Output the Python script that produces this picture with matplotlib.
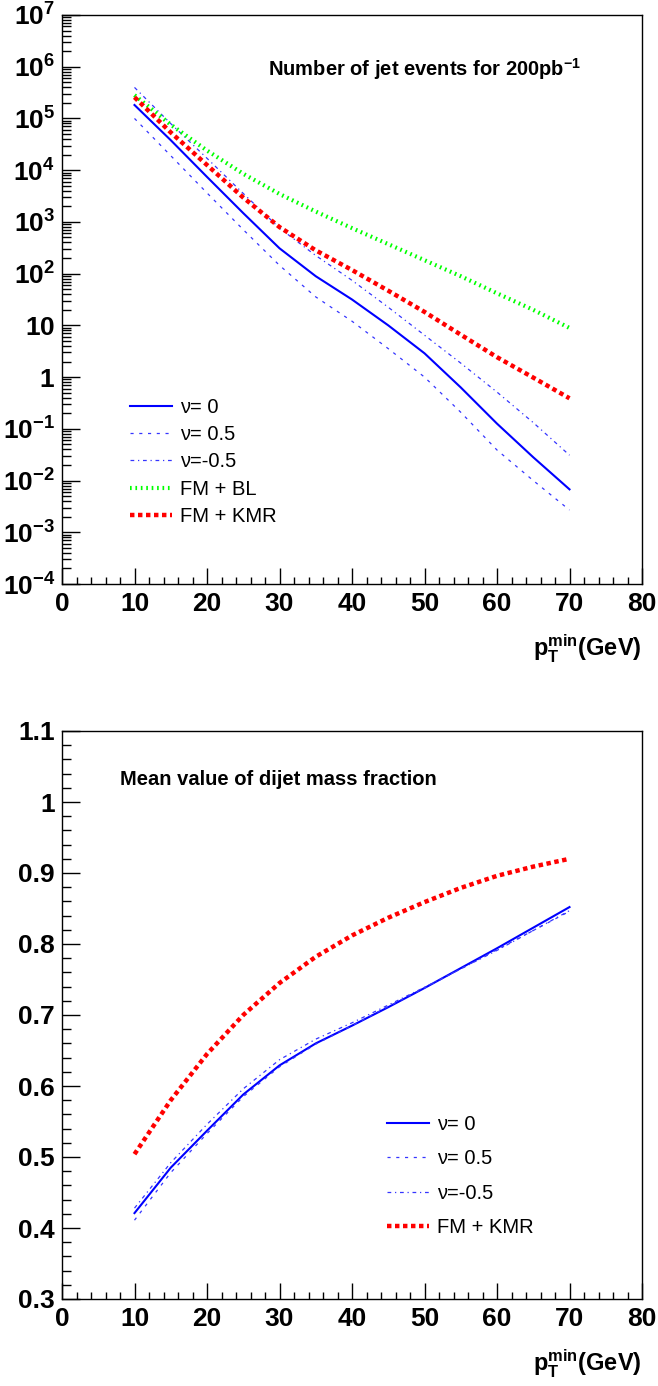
import numpy as np
import matplotlib
matplotlib.use('Agg')
import matplotlib.pyplot as plt
from matplotlib.ticker import MultipleLocator, LogLocator, FuncFormatter, NullFormatter

plt.rcParams['font.family'] = ['Liberation Sans', 'DejaVu Sans']
plt.rcParams['mathtext.fontset'] = 'custom'
plt.rcParams['mathtext.rm'] = 'Liberation Sans'
plt.rcParams['mathtext.bf'] = 'Liberation Sans:bold'
plt.rcParams['mathtext.it'] = 'Liberation Sans:italic'

# pT min (GeV)
pt = [10, 15, 20, 25, 30, 35, 40, 45, 50, 55, 60, 65, 70]

# number of jet events, log10 of value
nev_nu0 = [5.26, 4.58, 3.87, 3.17, 2.49, 1.95, 1.50, 1.00, 0.46, -0.20, -0.90, -1.55, -2.17]
nev_nu05 = [5.00, 4.28, 3.56, 2.85, 2.16, 1.55, 1.08, 0.55, 0.00, -0.68, -1.41, -2.00, -2.57]
nev_num05 = [5.60, 4.90, 4.23, 3.55, 2.88, 2.35, 1.87, 1.35, 0.81, 0.27, -0.29, -0.88, -1.51]
nev_bl = [5.45, 4.88, 4.38, 3.93, 3.54, 3.20, 2.88, 2.57, 2.26, 1.95, 1.62, 1.30, 0.95]
nev_kmr = [5.41, 4.73, 4.10, 3.47, 2.90, 2.45, 2.07, 1.67, 1.26, 0.82, 0.385, -0.01, -0.41]

# mean dijet mass fraction
mf_nu0 = [0.421, 0.485, 0.537, 0.588, 0.629, 0.660, 0.685, 0.711, 0.738, 0.766, 0.794, 0.823, 0.852]
mf_nu05 = [0.411, 0.478, 0.533, 0.585, 0.627, 0.659, 0.685, 0.712, 0.738, 0.765, 0.792, 0.819, 0.846]
mf_num05 = [0.428, 0.492, 0.546, 0.596, 0.637, 0.666, 0.689, 0.714, 0.739, 0.765, 0.791, 0.819, 0.847]
mf_kmr = [0.504, 0.580, 0.645, 0.700, 0.745, 0.782, 0.812, 0.837, 0.859, 0.879, 0.896, 0.909, 0.920]

labels = ['ν= 0', 'ν= 0.5', 'ν=-0.5', 'FM + BL', 'FM + KMR']

sty = {
    'nu0': dict(color='#0000ff', lw=1.5, ls='-'),
    'nu05': dict(color='#3535ff', lw=0.9, ls=(0, (2.5, 4.5))),
    'num05': dict(color='#3535ff', lw=0.9, ls=(0, (3, 3, 1, 3))),
    'bl': dict(color='#00ff00', lw=3.0, ls=(0, (0.4, 0.9)), dash_capstyle='butt'),
    'kmr': dict(color='#ff0000', lw=3.2, ls=(0, (1.0, 0.8)), dash_capstyle='butt'),
}

W, H = 658, 1386
fig = plt.figure(figsize=(W / 100, H / 100), dpi=100)
ax1 = fig.add_axes([62 / W, 1 - 584 / H, 580 / W, 569 / H])
ax2 = fig.add_axes([62 / W, 1 - 1299 / H, 580 / W, 568 / H])


def log_fmt(v, pos):
    k = int(round(np.log10(v)))
    if k == 0:
        return r'$\mathbf{1}$'
    if k == 1:
        return r'$\mathbf{10}$'
    return r'$\mathbf{10^{%d}}$' % k


def style_axes(ax):
    ax.set_xlim(0, 80)
    ax.xaxis.set_major_locator(MultipleLocator(10))
    ax.xaxis.set_minor_locator(MultipleLocator(2))
    ax.tick_params(which='both', direction='in', top=False, right=False, width=1)
    ax.tick_params(axis='x', which='major', length=11.5, pad=6, labelsize=19)
    ax.tick_params(axis='x', which='minor', length=5)
    ax.tick_params(axis='y', which='major', length=13, pad=5, labelsize=19)
    ax.tick_params(axis='y', which='minor', length=6.5)
    for lab in ax.get_xticklabels() + ax.get_yticklabels():
        lab.set_fontweight('bold')
    for s in ax.spines.values():
        s.set_linewidth(1.0)
    ax.set_xlabel(r'$\mathbf{p_{T}^{min}}$(GeV)', loc='right', fontsize=17,
                  fontweight='bold', labelpad=12)


# top panel
x = np.array(pt)
ax1.plot(x, 10 ** np.array(nev_nu0), label=labels[0], **sty['nu0'])
ax1.plot(x, 10 ** np.array(nev_nu05), label=labels[1], **sty['nu05'])
ax1.plot(x, 10 ** np.array(nev_num05), label=labels[2], **sty['num05'])
ax1.plot(x, 10 ** np.array(nev_bl), label=labels[3], **sty['bl'])
ax1.plot(x, 10 ** np.array(nev_kmr), label=labels[4], **sty['kmr'])
ax1.set_yscale('log')
ax1.set_ylim(1e-4, 1e7)
ax1.yaxis.set_major_locator(LogLocator(base=10, numticks=20))
ax1.yaxis.set_minor_locator(LogLocator(base=10, subs=np.arange(2, 10), numticks=200))
ax1.yaxis.set_major_formatter(FuncFormatter(log_fmt))
ax1.yaxis.set_minor_formatter(NullFormatter())
style_axes(ax1)
ax1.text(0.355, 0.905, r'Number of jet events for 200pb$^{\mathbf{-1}}$', transform=ax1.transAxes,
         fontsize=14.5, fontweight='bold', va='center', ha='left')
ax1.legend(loc='upper left', bbox_to_anchor=(0.117, 0.327), frameon=False, fontsize=14.5,
           handlelength=2.1, handletextpad=0.4, labelspacing=0.41, borderpad=0, borderaxespad=0)

# bottom panel
ax2.plot(x, mf_nu0, label=labels[0], **sty['nu0'])
ax2.plot(x, mf_nu05, label=labels[1], **sty['nu05'])
ax2.plot(x, mf_num05, label=labels[2], **sty['num05'])
ax2.plot(x, mf_kmr, label=labels[4], **sty['kmr'])
ax2.set_ylim(0.3, 1.1)
ax2.yaxis.set_major_locator(MultipleLocator(0.1))
ax2.yaxis.set_minor_locator(MultipleLocator(0.02))
ax2.yaxis.set_major_formatter(FuncFormatter(lambda v, p: '%g' % round(v, 2)))
style_axes(ax2)
ax2.text(0.10, 0.915, 'Mean value of dijet mass fraction', transform=ax2.transAxes,
         fontsize=14.5, fontweight='bold', va='center', ha='left')
ax2.legend(loc='upper left', bbox_to_anchor=(0.560, 0.324), frameon=False, fontsize=14.5,
           handlelength=2.1, handletextpad=0.4, labelspacing=0.76, borderpad=0, borderaxespad=0)

fig.savefig('out.png', dpi=100)
